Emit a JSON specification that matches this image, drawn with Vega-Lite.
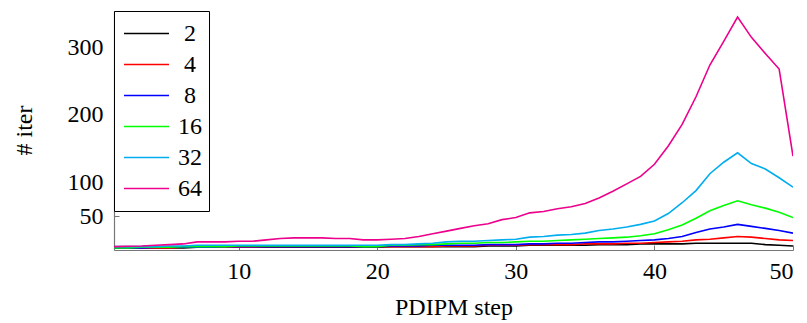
{
  "$schema": "https://vega.github.io/schema/vega-lite/v6.json",
  "width": 679,
  "height": 239,
  "autosize": {"type": "none"},
  "padding": {"left": 114, "top": 11, "right": 14, "bottom": 73},
  "background": "white",
  "data": {
    "values": [
      {"step": 1, "2": 3, "4": 3, "8": 3, "16": 3, "32": 5, "64": 5},
      {"step": 2, "2": 3, "4": 3, "8": 3, "16": 3, "32": 5, "64": 5.5},
      {"step": 3, "2": 3, "4": 3, "8": 3, "16": 4, "32": 5, "64": 6},
      {"step": 4, "2": 3, "4": 3, "8": 4, "16": 4, "32": 5, "64": 7},
      {"step": 5, "2": 3, "4": 3, "8": 4, "16": 4, "32": 6, "64": 8},
      {"step": 6, "2": 3, "4": 4, "8": 4, "16": 5, "32": 6, "64": 9},
      {"step": 7, "2": 4, "4": 4, "8": 4, "16": 5, "32": 7, "64": 12},
      {"step": 8, "2": 4, "4": 4, "8": 4, "16": 5, "32": 7, "64": 12},
      {"step": 9, "2": 4, "4": 4, "8": 5, "16": 5, "32": 7, "64": 12},
      {"step": 10, "2": 4, "4": 4, "8": 5, "16": 6, "32": 7, "64": 13},
      {"step": 11, "2": 4, "4": 4, "8": 5, "16": 6, "32": 7, "64": 13},
      {"step": 12, "2": 4, "4": 5, "8": 5, "16": 6, "32": 7, "64": 15},
      {"step": 13, "2": 4, "4": 5, "8": 5, "16": 6, "32": 7, "64": 17},
      {"step": 14, "2": 4, "4": 5, "8": 5, "16": 6, "32": 7, "64": 18},
      {"step": 15, "2": 4, "4": 5, "8": 5, "16": 6, "32": 7, "64": 18},
      {"step": 16, "2": 4, "4": 5, "8": 5, "16": 6, "32": 7, "64": 18},
      {"step": 17, "2": 4, "4": 5, "8": 5, "16": 6, "32": 7, "64": 17},
      {"step": 18, "2": 4, "4": 5, "8": 5, "16": 6, "32": 7, "64": 17},
      {"step": 19, "2": 4, "4": 5, "8": 5, "16": 5, "32": 7, "64": 15},
      {"step": 20, "2": 4, "4": 5, "8": 5, "16": 5, "32": 7, "64": 15},
      {"step": 21, "2": 5, "4": 5, "8": 6, "16": 7, "32": 8, "64": 16},
      {"step": 22, "2": 5, "4": 5, "8": 6, "16": 7, "32": 8, "64": 17},
      {"step": 23, "2": 5, "4": 5, "8": 6, "16": 8, "32": 9, "64": 20},
      {"step": 24, "2": 5, "4": 5, "8": 7, "16": 8, "32": 10, "64": 24},
      {"step": 25, "2": 5, "4": 6, "8": 7, "16": 9, "32": 12, "64": 28},
      {"step": 26, "2": 5, "4": 6, "8": 7, "16": 10, "32": 13, "64": 32},
      {"step": 27, "2": 5, "4": 6, "8": 7, "16": 10, "32": 13, "64": 36},
      {"step": 28, "2": 6, "4": 7, "8": 8, "16": 11, "32": 14, "64": 39},
      {"step": 29, "2": 6, "4": 7, "8": 8, "16": 11, "32": 15, "64": 45},
      {"step": 30, "2": 6, "4": 7, "8": 8, "16": 12, "32": 16, "64": 48},
      {"step": 31, "2": 7, "4": 8, "8": 9, "16": 13, "32": 19, "64": 55},
      {"step": 32, "2": 7, "4": 8, "8": 9, "16": 13, "32": 20, "64": 57},
      {"step": 33, "2": 7, "4": 8, "8": 10, "16": 14, "32": 22, "64": 61},
      {"step": 34, "2": 7, "4": 8, "8": 10, "16": 15, "32": 23, "64": 64},
      {"step": 35, "2": 7, "4": 9, "8": 11, "16": 16, "32": 25, "64": 69},
      {"step": 36, "2": 8, "4": 9, "8": 12, "16": 17, "32": 29, "64": 77},
      {"step": 37, "2": 8, "4": 9, "8": 12, "16": 18, "32": 31, "64": 87},
      {"step": 38, "2": 8, "4": 10, "8": 13, "16": 19, "32": 34, "64": 98},
      {"step": 39, "2": 9, "4": 10, "8": 14, "16": 21, "32": 38, "64": 109},
      {"step": 40, "2": 9, "4": 11, "8": 15, "16": 24, "32": 43, "64": 127},
      {"step": 41, "2": 9, "4": 12, "8": 17, "16": 30, "32": 54, "64": 154},
      {"step": 42, "2": 9, "4": 13, "8": 20, "16": 37, "32": 70, "64": 186},
      {"step": 43, "2": 10, "4": 15, "8": 26, "16": 47, "32": 88, "64": 227},
      {"step": 44, "2": 10, "4": 16, "8": 31, "16": 58, "32": 113, "64": 274},
      {"step": 45, "2": 10, "4": 18, "8": 34, "16": 66, "32": 130, "64": 309},
      {"step": 46, "2": 10, "4": 20, "8": 38, "16": 73, "32": 144, "64": 345},
      {"step": 47, "2": 10, "4": 19, "8": 35, "16": 67, "32": 128, "64": 315},
      {"step": 48, "2": 8, "4": 17, "8": 32, "16": 62, "32": 120, "64": 291},
      {"step": 49, "2": 7, "4": 15, "8": 29, "16": 56, "32": 107, "64": 268},
      {"step": 50, "2": 6, "4": 14, "8": 25, "16": 48, "32": 93, "64": 139}
    ]
  },
  "transform": [
    {"fold": ["2", "4", "8", "16", "32", "64"], "as": ["n", "iter"]}
  ],
  "mark": {"type": "line", "strokeWidth": 1.6, "clip": true},
  "encoding": {
    "x": {
      "field": "step",
      "type": "quantitative",
      "scale": {"domain": [1, 50], "nice": false, "zero": false},
      "axis": {
        "values": [10, 20, 30, 40, 50],
        "title": "PDIPM step",
        "tickSize": -5,
        "labelPadding": 33,
        "labelBaseline": "alphabetic",
        "labelFont": "Liberation Serif",
        "titleY": 64,
        "titleBaseline": "alphabetic"
      }
    },
    "y": {
      "field": "iter",
      "type": "quantitative",
      "scale": {"domain": [0, 354], "nice": false},
      "axis": {
        "values": [50, 100, 200, 300],
        "title": "# iter",
        "tickSize": -5,
        "labelPadding": 16,
        "labelBaseline": "middle",
        "labelFont": "Liberation Serif",
        "titleX": -83,
        "titleY": 119,
        "titleAngle": 270,
        "titleAlign": "center",
        "titleBaseline": "alphabetic"
      }
    },
    "color": {
      "field": "n",
      "type": "nominal",
      "scale": {
        "domain": ["2", "4", "8", "16", "32", "64"],
        "range": ["#000000", "#ff0000", "#0000ff", "#00ff00", "#00adef", "#ec008c"]
      },
      "legend": {
        "title": null,
        "orient": "none",
        "legendX": 0,
        "legendY": 0,
        "strokeColor": "#000000",
        "fillColor": "#ffffff",
        "padding": 7,
        "symbolType": "stroke",
        "symbolSize": 2025,
        "symbolStrokeWidth": 1.6,
        "symbolOffset": 2,
        "clipHeight": 31,
        "rowPadding": 0,
        "labelFontSize": 24,
        "labelFont": "Liberation Serif",
        "labelColor": "#000000",
        "labelAlign": "center",
        "labelOffset": 20
      }
    }
  },
  "config": {
    "view": {"stroke": null},
    "font": "Liberation Serif",
    "axis": {
      "grid": false,
      "domainColor": "#777777",
      "domainWidth": 1.2,
      "tickColor": "#777777",
      "tickWidth": 1,
      "labelFont": "Liberation Serif",
      "labelFontSize": 24,
      "labelColor": "#000000",
      "titleFont": "Liberation Serif",
      "titleFontSize": 24,
      "titleFontWeight": "normal",
      "titleColor": "#000000"
    }
  }
}
